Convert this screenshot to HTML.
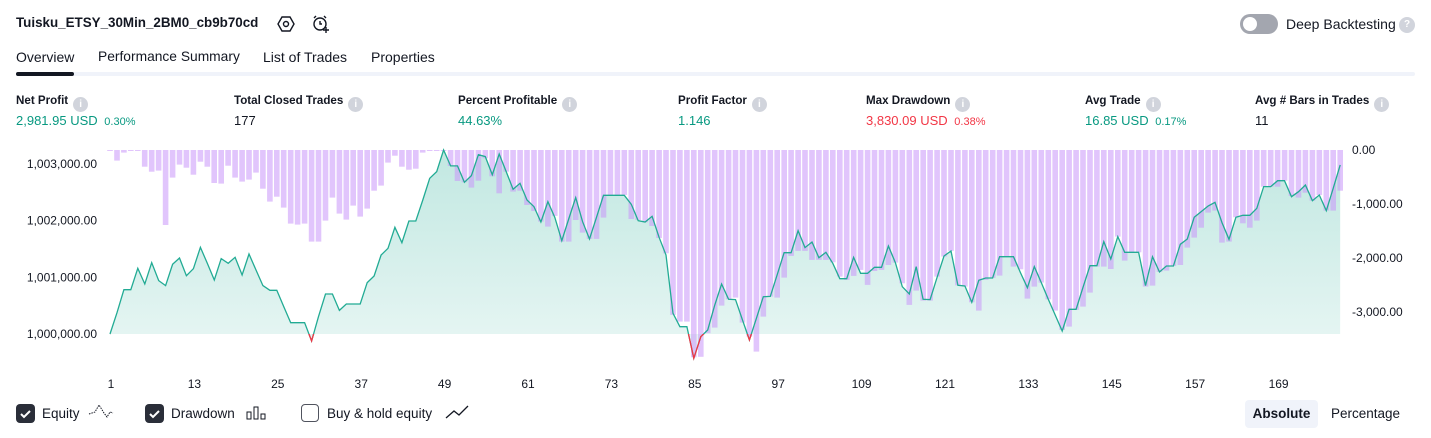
<!DOCTYPE html>
<html><head><meta charset="utf-8">
<style>
body{margin:0;width:1431px;height:438px;background:#fff;font-family:"Liberation Sans",sans-serif;color:#131722;position:relative;overflow:hidden}
.a{position:absolute;white-space:nowrap}
.lbl{font-size:11.6px;font-weight:bold;color:#131722}
.val{font-size:13px}
.g{color:#089981}.r{color:#f23645}
.info{display:inline-block;width:15px;height:15px;border-radius:50%;background:#d1d4dc;color:#fff;font-size:10px;text-align:center;line-height:15px;vertical-align:-3px;margin-left:5px;font-weight:bold}
.cb{position:absolute;width:19px;height:19px;border-radius:4px;top:404px}
</style></head><body>
<div class="a" style="left:16px;top:15px;font-size:13.4px;font-weight:bold">Tuisku_ETSY_30Min_2BM0_cb9b70cd</div>
<svg class="a" style="left:277px;top:15px" width="18" height="18"><polygon points="5,2 13,2 17,9 13,16 5,16 1,9" fill="none" stroke="#131722" stroke-width="1.4"/><circle cx="9" cy="9" r="2.5" fill="none" stroke="#131722" stroke-width="1.4"/></svg>
<svg class="a" style="left:311px;top:14px" width="20" height="20"><circle cx="9" cy="10" r="6" fill="none" stroke="#131722" stroke-width="1.4"/><path d="M9 7v3h2M3 4l2-2M15 4l-2-2M15 13v6M12 16h6" stroke="#131722" stroke-width="1.4" fill="none"/></svg>
<div class="a" style="left:1240px;top:14px;width:38px;height:20px;border-radius:10px;background:#a3a6af"><div style="position:absolute;left:3px;top:3px;width:14px;height:14px;border-radius:50%;background:#fff"></div></div>
<div class="a" style="left:1286px;top:16px;font-size:14px">Deep Backtesting</div>
<div class="a info" style="left:1394px;top:17px;width:16px;height:16px;line-height:16px">?</div>

<div class="a" style="left:16px;top:49px;font-size:14px">Overview</div>
<div class="a" style="left:98px;top:49px;font-size:13.8px">Performance Summary</div>
<div class="a" style="left:263px;top:49px;font-size:14px">List of Trades</div>
<div class="a" style="left:371px;top:49px;font-size:14px">Properties</div>
<div class="a" style="left:16px;top:72px;width:1399px;height:4px;background:#f0f3fa;border-radius:2px"></div>
<div class="a" style="left:16px;top:72px;width:58px;height:4px;background:#131722;border-radius:2px"></div>

<div class="a lbl" style="left:16px;top:94px">Net Profit<span class="info">i</span></div>
<div class="a val g" style="left:16px;top:113px">2,981.95 USD <span style="font-size:11px;margin-left:3px">0.30%</span></div>
<div class="a lbl" style="left:234px;top:94px">Total Closed Trades<span class="info">i</span></div>
<div class="a val" style="left:234px;top:113px">177</div>
<div class="a lbl" style="left:458px;top:94px">Percent Profitable<span class="info">i</span></div>
<div class="a val g" style="left:458px;top:113px">44.63%</div>
<div class="a lbl" style="left:678px;top:94px">Profit Factor<span class="info">i</span></div>
<div class="a val g" style="left:678px;top:113px">1.146</div>
<div class="a lbl" style="left:866px;top:94px">Max Drawdown<span class="info">i</span></div>
<div class="a val r" style="left:866px;top:113px">3,830.09 USD <span style="font-size:11px;margin-left:3px">0.38%</span></div>
<div class="a lbl" style="left:1085px;top:94px">Avg Trade<span class="info">i</span></div>
<div class="a val g" style="left:1085px;top:113px">16.85 USD <span style="font-size:11px;margin-left:3px">0.17%</span></div>
<div class="a lbl" style="left:1255px;top:94px">Avg # Bars in Trades<span class="info">i</span></div>
<div class="a val" style="left:1255px;top:113px;color:#131722">11</div>

<svg id="chart" class="a" style="left:0;top:0" width="1431" height="438">
<defs><linearGradient id="gf" x1="0" y1="0" x2="0" y2="1"><stop offset="0" stop-color="#22ab94" stop-opacity="0.28"/><stop offset="1" stop-color="#22ab94" stop-opacity="0.1"/></linearGradient>
<clipPath id="below"><rect x="0" y="334" width="1431" height="60"/></clipPath></defs>
</svg>

<div class="cb" style="left:16px;background:#2a2e39"><svg width="19" height="19"><path d="M5 10l3 3 6-6" stroke="#fff" stroke-width="2" fill="none"/></svg></div>
<div class="a" style="left:42px;top:406px;font-size:13.5px">Equity</div>
<svg class="a" style="left:88px;top:403px" width="26" height="18"><path d="M1 11l6-2 4-7 5 8 3 4 3-5 3 1" stroke="#131722" stroke-width="1" fill="none" stroke-dasharray="1.5 1"/></svg>
<div class="cb" style="left:145px;background:#2a2e39"><svg width="19" height="19"><path d="M5 10l3 3 6-6" stroke="#fff" stroke-width="2" fill="none"/></svg></div>
<div class="a" style="left:171px;top:406px;font-size:13.5px">Drawdown</div>
<svg class="a" style="left:246px;top:405px" width="22" height="16"><rect x="1" y="7" width="4" height="7" fill="none" stroke="#131722"/><rect x="8" y="2" width="4" height="12" fill="none" stroke="#131722"/><rect x="15" y="9" width="4" height="5" fill="none" stroke="#131722"/></svg>
<div class="cb" style="left:301px;border:1.5px solid #50535e;width:16px;height:16px;top:404px"></div>
<div class="a" style="left:327px;top:406px;font-size:13.5px">Buy &amp; hold equity</div>
<svg class="a" style="left:445px;top:404px" width="24" height="16"><path d="M1 14l8-7 5 4 9-9" stroke="#131722" stroke-width="1.3" fill="none"/></svg>
<div class="a" style="left:1245px;top:400px;width:73px;height:28px;background:#f0f3fa;border-radius:4px;font-size:13.5px;font-weight:bold;text-align:center;line-height:28px">Absolute</div>
<div class="a" style="left:1331px;top:400px;height:28px;font-size:13.5px;line-height:28px">Percentage</div>

<script>
const equity=[0,376,782,782,1159,882,1258,941,853,1229,1341,1029,1152,1529,1247,953,1329,1247,1353,1041,1411,1129,853,770,770,482,200,200,200,-123,306,706,706,417,529,529,529,906,1023,1394,1511,1882,1611,1993,1993,2364,2746,2864,3246,2964,2964,2676,2793,3163,3128,2810,3175,2864,2552,2658,2364,2246,1976,2334,2058,1646,2029,2405,1981,1676,2058,2446,2446,2446,2446,2287,1999,1976,2076,1705,1394,365,129,129,-429,-47,71,500,882,612,606,247,-106,277,658,664,1046,1434,1434,1822,1523,1623,1346,1441,1247,976,976,1353,1070,1070,1176,1176,1552,1258,834,706,1188,612,606,1000,1376,1464,859,847,559,947,988,988,1364,1364,1364,1082,817,1188,906,612,335,53,435,435,823,1205,1205,1629,1323,1717,1441,1441,1441,853,1364,1094,1200,1200,1582,1676,2058,2158,2258,2323,1964,1670,2058,2093,2093,2217,2599,2599,2704,2704,2422,2510,2628,2351,2452,2175,2570,2982];
const drawdown=[19,197,49,12,12,309,401,382,1388,512,271,327,457,216,309,611,623,290,512,586,549,419,716,956,864,1067,1363,1382,1363,1697,1697,1308,882,1178,1289,1030,1234,1086,753,660,234,105,309,364,346,49,19,12,12,296,574,598,697,568,154,487,802,401,771,753,1018,1129,1326,1419,1221,1697,1697,1296,1530,1647,1647,1252,833,833,833,1277,1296,1339,1407,1629,1913,3054,3177,3177,3838,3830,3393,3288,2881,2764,2733,3196,3455,3733,3085,2715,2733,2363,1962,1869,1869,2036,2036,2036,2079,2345,2406,2332,2221,2499,2240,2221,2129,2086,2468,2869,2604,2789,2789,2345,1975,1869,2505,2530,2820,2974,2406,2369,2326,1975,2160,2209,2752,2530,2456,2764,2974,3331,3270,2962,2900,2641,2160,2160,2203,1604,2048,1894,1894,2530,2511,2258,2233,2147,2129,1808,1623,1438,1160,1123,1715,1697,1246,1357,1438,1308,679,679,679,568,851,882,790,938,833,1123,1123,753];
const xTicks=[1,13,25,37,49,61,73,85,97,109,121,133,145,157,169];
const leftTicks=[1003000,1002000,1001000,1000000];
const rightTicks=[0,-1000,-2000,-3000];
const initialCapital=1000000;

const svg=document.getElementById('chart');
const NS='http://www.w3.org/2000/svg';
const x=i=>110+i*6.95;
const yL=v=>334-(v-initialCapital)*0.0567;
const yR=d=>150+d*0.054;
function mk(tag,attrs){const e=document.createElementNS(NS,tag);for(const k in attrs)e.setAttribute(k,attrs[k]);svg.appendChild(e);return e;}

let pts=equity.map((v,i)=>x(i).toFixed(1)+','+yL(initialCapital+v).toFixed(1));
const area=mk('polygon',{points:x(0)+','+yL(initialCapital)+' '+pts.join(' ')+' '+x(equity.length-1)+','+yL(initialCapital),fill:'url(#gf)'});


drawdown.forEach((d,i)=>{
  const b=mk('rect',{x:(x(i)-2.8).toFixed(1),y:yR(0),width:5.6,height:Math.max(1,yR(d)-yR(0)).toFixed(1),fill:'rgb(200,150,250)','fill-opacity':0.55});
  
  
});
const line=mk('polyline',{points:pts.join(' '),fill:'none',stroke:'#22ab94','stroke-width':1.3});


const red=mk('polyline',{points:pts.join(' '),fill:'none',stroke:'#f23645','stroke-width':1.3,'clip-path':'url(#below)'});


xTicks.forEach(n=>{
  const t=mk('text',{x:x(n-1)+1,y:388,'text-anchor':'middle','font-size':12,fill:'#131722','font-family':'Liberation Sans, sans-serif'});
  t.textContent=n;
  
  
});
const fmt=v=>v.toLocaleString('en-US',{minimumFractionDigits:2,maximumFractionDigits:2});
leftTicks.forEach(v=>{
  const t=mk('text',{x:97,y:yL(v)+4,'text-anchor':'end','font-size':12,fill:'#131722','font-family':'Liberation Sans, sans-serif'});
  t.textContent=fmt(v);
  
  
});
rightTicks.forEach(v=>{
  const t=mk('text',{x:1352,y:yR(-v)+4,'font-size':12,fill:'#131722','font-family':'Liberation Sans, sans-serif'});
  t.textContent=fmt(v);
  
  
});
</script>
</body></html>
